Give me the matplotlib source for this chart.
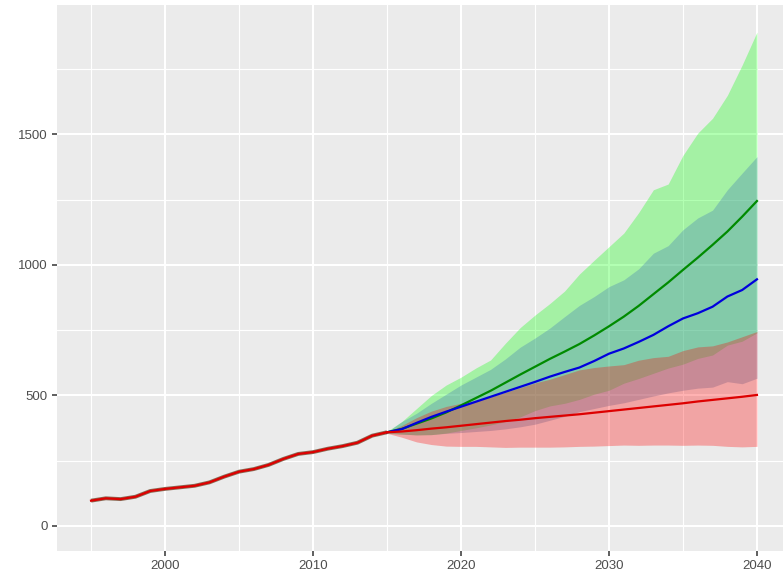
import matplotlib
matplotlib.use("Agg")
import matplotlib.pyplot as plt
from matplotlib.ticker import MultipleLocator

# historic series
hist_years = list(range(1995, 2016))
hist = [97, 106, 103, 112, 134, 142, 148, 154, 167, 189, 208,
        218, 234, 257, 276, 283, 296, 306, 319, 346, 359]

# forecasts 2015..2040
fc_years = list(range(2015, 2041))
green_mid = [359, 372, 392, 412, 435, 462, 490, 518, 549, 580, 610, 640, 668,
             697, 730, 765, 802, 843, 888, 933, 981, 1028, 1077, 1128, 1185, 1245]
green_lo = [355, 352, 349, 350, 356, 366, 376, 387, 400, 418, 442, 460, 470,
            485, 505, 520, 547, 565, 585, 605, 620, 642, 655, 693, 708, 740]
green_hi = [362, 400, 450, 500, 540, 570, 605, 636, 700, 760, 808, 852, 900,
            965, 1018, 1070, 1122, 1200, 1288, 1310, 1420, 1505, 1562, 1650, 1766, 1892]

blue_mid = [359, 371, 395, 418, 438, 457, 476, 495, 514, 533, 552, 572, 590,
            607, 632, 660, 680, 705, 732, 765, 795, 815, 840, 879, 904, 945]
blue_lo = [355, 352, 349, 350, 355, 358, 362, 366, 372, 380, 390, 405, 420,
           438, 450, 462, 472, 485, 498, 510, 520, 528, 532, 553, 545, 566]
blue_hi = [360, 400, 432, 470, 505, 540, 570, 600, 640, 685, 720, 758, 802,
           845, 879, 917, 943, 985, 1045, 1074, 1135, 1180, 1210, 1288, 1352, 1415]

red_mid = [359, 362, 367, 373, 378, 384, 390, 396, 402, 407, 413, 418, 423,
           428, 434, 440, 446, 452, 458, 464, 470, 477, 483, 489, 495, 502]
red_lo = [355, 340, 322, 312, 306, 305, 305, 303, 301, 302, 302, 302, 303,
          305, 306, 308, 310, 309, 310, 310, 309, 310, 309, 305, 303, 305]
red_hi = [360, 385, 415, 440, 458, 470, 480, 495, 512, 530, 548, 562, 580,
          598, 607, 613, 618, 635, 645, 650, 672, 686, 690, 705, 725, 745]

fig = plt.figure(figsize=(7.83, 5.79), dpi=100)
ax = fig.add_axes([0.0728, 0.0492, 0.9272, 0.9422])
ax.set_facecolor("#EBEBEB")
ax.set_axisbelow(True)

ax.fill_between(fc_years, green_lo, green_hi, color="#00FF00", alpha=0.3, linewidth=0)
ax.fill_between(fc_years, blue_lo, blue_hi, color="steelblue", alpha=0.35, linewidth=0)
ax.fill_between(fc_years, red_lo, red_hi, color="#FF0000", alpha=0.3, linewidth=0)

ax.plot(hist_years, hist, color="#8a6a55", linewidth=2.8, solid_capstyle="butt")
ax.plot(fc_years, green_mid, color="#008B00", linewidth=1.6)
ax.plot(fc_years, blue_mid, color="#0000DD", linewidth=1.6)
ax.plot(hist_years, hist, color="#DD0000", linewidth=1.6)
ax.plot(fc_years, red_mid, color="#DD0000", linewidth=1.6)

ax.set_xlim(1992.70, 2041.76)
ax.set_ylim(-94, 1996)
ax.xaxis.set_major_locator(MultipleLocator(10))
ax.xaxis.set_minor_locator(MultipleLocator(5))
ax.yaxis.set_major_locator(MultipleLocator(500))
ax.yaxis.set_minor_locator(MultipleLocator(250))

ax.grid(which="major", color="white", linewidth=1.5)
ax.grid(which="minor", color="white", linewidth=0.8)
for s in ax.spines.values():
    s.set_visible(False)

ax.tick_params(which="major", length=3.5, width=1.1, color="#333333",
               labelcolor="#4D4D4D", labelsize=9.5, pad=3)
ax.tick_params(which="minor", length=0)
for lab in ax.get_xticklabels() + ax.get_yticklabels():
    lab.set_family("Liberation Sans")

fig.savefig("out.png", dpi=100, facecolor="white")
